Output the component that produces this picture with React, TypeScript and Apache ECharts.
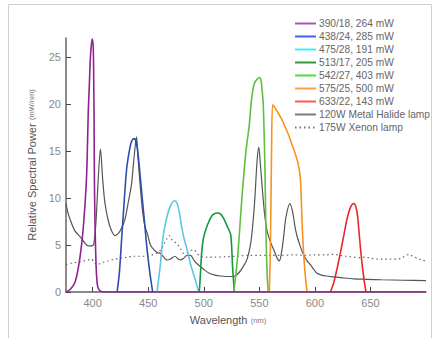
import React, { useEffect, useRef } from "react";
import * as echarts from "echarts";

const seriesNames = [
  "390/18, 264 mW",
  "438/24, 285 mW",
  "475/28, 191 mW",
  "513/17, 205 mW",
  "542/27, 403 mW",
  "575/25, 500 mW",
  "633/22, 143 mW",
  "120W Metal Halide lamp",
  "175W Xenon lamp",
];

const lineColors = ["#8f2190", "#2c4fab", "#5cc7df", "#0f9a42", "#5fc03e", "#f7931e", "#e8282e", "#555555", "#666666"];
const legendColors = ["#a558b2", "#3f62f2", "#45eeee", "#2f9e32", "#45e045", "#ffa23c", "#ff5a48", "#7a7a7a", "#777777"];

const xTicks = [400, 450, 500, 550, 600, 650];
const yTicks = [0, 5, 10, 15, 20, 25];

const violet: number[][] = [
  [376, 0], [380, 0.3], [384, 1], [387, 2.5], [390, 5], [392, 7.5], [394, 11], [395, 14], [396, 19],
  [397, 22], [398, 25], [399.5, 26.9], [400.5, 26], [401, 22], [401.3, 18], [401.5, 13], [402, 8],
  [403, 3], [404, 1], [405, 0.4], [407, 0.1], [410, 0], [700, 0],
];
const blue: number[][] = [
  [422, 0], [424, 2], [426, 5.5], [428, 9], [430.5, 13], [433, 15], [435, 16], [437.3, 16.3], [439, 16],
  [441, 14.5], [443, 12], [445, 9.5], [447, 7], [449, 4.5], [451.5, 2], [454, 0],
];
const cyan: number[][] = [
  [458, 0], [459.5, 1.5], [461, 3], [463, 5.5], [465, 7], [468, 8.5], [471, 9.4], [474, 9.7], [476, 9.4],
  [478, 8.5], [480, 7], [482, 5.8], [485, 4.5], [488, 3], [491, 1.8], [493.5, 0.8], [495.5, 0],
];
const darkGreen: number[][] = [
  [496, 0], [497, 2], [498, 4], [499.5, 5.6], [502, 6.7], [505, 7.6], [508, 8.2], [512, 8.4], [515, 8.3],
  [518, 7.8], [521, 7], [524, 6.2], [525, 5], [526, 2.5], [527.5, 0],
];
const lightGreen: number[][] = [
  [527, 0], [529, 2], [531, 4.5], [534, 9.5], [538, 15], [541, 17.8], [543, 20.5], [545, 22], [546.5, 22.4],
  [548, 22.6], [550, 22.8], [551.5, 22.5], [552.5, 21.5], [553.5, 20], [554.5, 16], [555.2, 12], [556, 6],
  [557, 2], [558, 0],
];
const orange: number[][] = [
  [559, 0], [560, 5], [561, 15], [562, 19.9], [564, 19.6], [567, 19], [570, 18.4], [573, 17.6], [576, 16.8],
  [579, 15.8], [582, 14.8], [585, 13.6], [587, 12], [588, 9], [589, 6], [590.5, 3], [592, 1], [593, 0],
];
const red: number[][] = [
  [614, 0], [617, 1], [620, 2.5], [623, 4.2], [626, 6], [629, 7.8], [632, 9], [635, 9.4], [637, 9],
  [638.5, 8], [640, 6], [642, 3.5], [644, 1.5], [646, 0],
];
const metalHalide: number[][] = [
  [376, 9.4], [378, 8.3], [381, 7.3], [384, 6.5], [387, 6.1], [390, 5.7], [393, 5.2], [396, 4.9], [399, 4.9],
  [401, 5.1], [403, 7.5], [405, 12], [407, 15.2], [409, 12], [411, 9.5], [414, 7.6], [417, 6.5], [420, 6.0],
  [423, 6.2], [426, 6.8], [429, 7.7], [432, 9.5], [435, 11.5], [437, 14], [439.5, 16.5], [441, 14], [443, 11],
  [445, 8.5], [447, 7], [449.5, 6.1], [452, 5], [455, 4.5], [458, 4.2], [461, 4.1], [464, 3.7], [467, 3.4],
  [470, 3.5], [474, 3.8], [477, 3.5], [479, 3.4], [482, 3.6], [485, 3.9], [488, 3.9], [491, 3.4], [494, 3.0],
  [497, 2.7], [501, 2.3], [505, 2.0], [510, 1.8], [515, 1.7], [520, 1.65], [525, 1.65], [528, 1.7], [532, 2.1],
  [536, 2.8], [539, 3.5], [542, 5], [544, 7], [546, 10], [548, 14], [549.5, 15.4], [551, 13.5], [553, 10.5],
  [555, 8], [557, 6.5], [560, 5.3], [563, 4.5], [566, 3.6], [568, 3.3], [570, 4.2], [572, 6], [574, 8],
  [577.5, 9.4], [580, 8.5], [582, 7], [584, 5.9], [587, 4.8], [590, 3.9], [593, 3.3], [596, 2.9], [599, 2.4],
  [602, 2.0], [606, 1.8], [610, 1.7], [617, 1.6], [625, 1.5], [635, 1.4], [647, 1.35], [660, 1.3], [680, 1.25],
  [700, 1.2],
];
const xenon: number[][] = [
  [376, 2.9], [382, 3.1], [388, 3.2], [392, 3.3], [396, 3.4], [399, 3.5], [401, 3.2], [404, 2.9], [408, 3.1],
  [414, 3.3], [420, 3.5], [425, 3.6], [431, 3.7], [437, 3.8], [443, 3.8], [449, 3.8], [455, 4.0], [459, 4.2],
  [462, 4.6], [465, 5.3], [467, 5.7], [469, 6.0], [471, 5.6], [473, 5.4], [476, 5.1], [479, 4.6], [482, 4.1],
  [485, 4.2], [488, 4.4], [491, 4.5], [494, 4.1], [497, 3.8], [502, 3.7], [510, 3.7], [520, 3.75], [530, 3.8],
  [540, 3.9], [550, 3.9], [560, 3.9], [570, 3.9], [580, 3.95], [590, 3.9], [600, 3.95], [610, 3.95], [617, 4.0],
  [622, 3.9], [628, 3.8], [635, 3.7], [640, 3.65], [645, 3.7], [650, 3.6], [656, 3.5], [662, 3.5], [668, 3.5],
  [674, 3.5], [678, 3.6], [682, 3.9], [685, 4.0], [688, 3.8], [692, 3.6], [696, 3.4], [700, 3.3],
];

const allData = [violet, blue, cyan, darkGreen, lightGreen, orange, red, metalHalide, xenon];

export default function App() {
  const ref = useRef<HTMLDivElement>(null);
  useEffect(() => {
    if (!ref.current) return;
    const chart = echarts.init(ref.current, undefined, { renderer: "svg" });
    const font = "Liberation Sans, Arial, sans-serif";
    const series = allData.map((d, i) => ({
      name: seriesNames[i],
      type: "line",
      data: d,
      showSymbol: false,
      symbol: "none",
      smooth: 0.3,
      z: i === 0 ? 10 : i >= 7 ? 3 : 5,
      lineStyle: {
        color: lineColors[i],
        width: i >= 7 ? 1.2 : 1.6,
        type: i === 8 ? [1.5, 3] : "solid",
      },
      itemStyle: { color: lineColors[i] },
    }));
    chart.setOption({
      animation: false,
      grid: { left: 66, right: 12, top: 38, bottom: 46 },
      legend: {
        left: 294,
        top: 17,
        padding: 0,
        orient: "vertical",
        itemWidth: 21,
        itemHeight: 10,
        itemGap: 0,
        itemStyle: { color: "rgba(0,0,0,0)", borderWidth: 0, opacity: 0 },
        textStyle: { fontSize: 10.2, color: "#666", fontFamily: font, lineHeight: 13, padding: [0, 0, 0, -2] },
        data: seriesNames.map((n, i) => ({
          name: n,
          itemStyle: { color: "rgba(0,0,0,0)", borderWidth: 0, opacity: 0 },
          lineStyle: { color: legendColors[i], width: 2, type: i === 8 ? [1.5, 3] : "solid" },
        })),
      },
      xAxis: {
        type: "value",
        min: 376,
        max: 700,
        name: "{a|Wavelength} {b|(nm)}",
        nameLocation: "middle",
        nameGap: 22,
        nameTextStyle: {
          padding: [0, 36, 0, 0],
          rich: {
            a: { fontSize: 11, color: "#555", fontFamily: font },
            b: { fontSize: 7.5, color: "#777", fontFamily: font },
          },
        },
        axisLine: { lineStyle: { color: "#666", width: 1.5 } },
        axisTick: { inside: true, length: 5, lineStyle: { color: "#444" }, customValues: xTicks },
        axisLabel: { color: "#888", fontSize: 11, fontFamily: font, margin: 5, customValues: xTicks },
        splitLine: { show: false },
      },
      yAxis: {
        type: "value",
        min: 0,
        max: 27,
        name: "{a|Relative Spectral Power} {b|(mW/nm)}",
        nameLocation: "middle",
        nameGap: 28,
        nameTextStyle: {
          rich: {
            a: { fontSize: 11, color: "#555", fontFamily: font },
            b: { fontSize: 7.5, color: "#777", fontFamily: font },
          },
        },
        axisLine: { show: true, lineStyle: { color: "#666", width: 1.5 } },
        axisTick: { show: true, inside: true, length: 5, lineStyle: { color: "#444" }, customValues: yTicks },
        axisLabel: { color: "#888", fontSize: 11, fontFamily: font, margin: 5, customValues: yTicks },
        splitLine: { show: false },
      },
      graphic: [
        {
          type: "rect",
          shape: { x: 8.5, y: 4.5, width: 423, height: 345 },
          style: { fill: "none", stroke: "#cfcfcf", lineWidth: 1 },
          z: -10,
          silent: true,
        },
      ],
      series,
    });
    return () => chart.dispose();
  }, []);
  return <div ref={ref} style={{ position: "fixed", left: 0, top: 0, width: 438, height: 338, background: "#fff" }} />;
}
